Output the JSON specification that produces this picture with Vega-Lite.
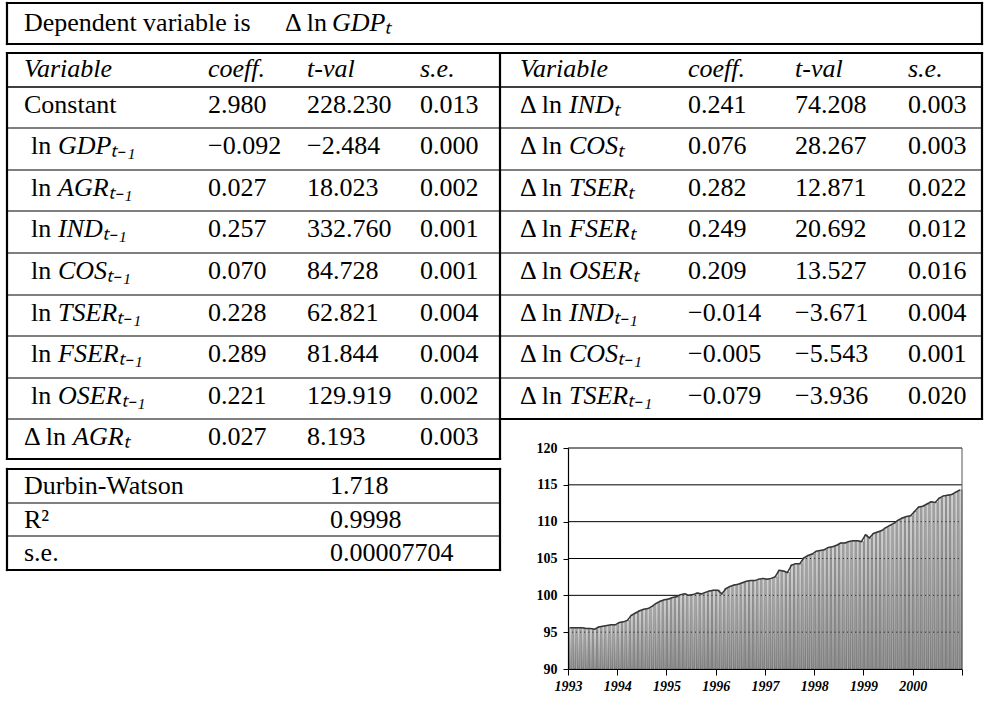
{
  "$schema": "https://vega.github.io/schema/vega-lite/v6.json",
  "width": 394,
  "height": 221,
  "autosize": {"type": "none"},
  "padding": {"left": 568, "top": 448, "right": 22, "bottom": 37},
  "background": "white",
  "config": {"view": {"stroke": null}, "font": "Liberation Serif"},
  "datasets": {
    "lines": [
      {"c": 0, "c2": 11, "r": 0, "r2": 0, "w": "thick"},
      {"c": 0, "c2": 11, "r": 1, "r2": 1, "w": "thick"},
      {"c": 0, "c2": 0, "r": 0, "r2": 1, "w": "thick"},
      {"c": 11, "c2": 11, "r": 0, "r2": 1, "w": "thick"},
      {"c": 0, "c2": 11, "r": 2, "r2": 2, "w": "thick"},
      {"c": 0, "c2": 11, "r": 3, "r2": 3, "w": "mid"},
      {"c": 0, "c2": 11, "r": 4, "r2": 4, "w": "thin"},
      {"c": 0, "c2": 11, "r": 5, "r2": 5, "w": "thin"},
      {"c": 0, "c2": 11, "r": 6, "r2": 6, "w": "thin"},
      {"c": 0, "c2": 11, "r": 7, "r2": 7, "w": "thin"},
      {"c": 0, "c2": 11, "r": 8, "r2": 8, "w": "thin"},
      {"c": 0, "c2": 11, "r": 9, "r2": 9, "w": "thin"},
      {"c": 0, "c2": 11, "r": 10, "r2": 10, "w": "thin"},
      {"c": 0, "c2": 6, "r": 11, "r2": 11, "w": "thin"},
      {"c": 6, "c2": 11, "r": 11, "r2": 11, "w": "thick"},
      {"c": 0, "c2": 6, "r": 12, "r2": 12, "w": "thick"},
      {"c": 0, "c2": 0, "r": 2, "r2": 12, "w": "thick"},
      {"c": 6, "c2": 6, "r": 2, "r2": 12, "w": "thick"},
      {"c": 11, "c2": 11, "r": 2, "r2": 11, "w": "thick"},
      {"c": 0, "c2": 6, "r": 13, "r2": 13, "w": "thick"},
      {"c": 0, "c2": 6, "r": 14, "r2": 14, "w": "thin"},
      {"c": 0, "c2": 6, "r": 15, "r2": 15, "w": "thin"},
      {"c": 0, "c2": 6, "r": 16, "r2": 16, "w": "thick"},
      {"c": 0, "c2": 0, "r": 13, "r2": 16, "w": "thick"},
      {"c": 6, "c2": 6, "r": 13, "r2": 16, "w": "thick"}
    ],
    "title": [
      {"c": 1, "r": 0, "t": "Dependent variable is", "part": "lead"},
      {"c": 1, "r": 0, "t": "Δ ln", "part": "op"},
      {"c": 1, "r": 0, "t": "GDPₜ", "part": "var"}
    ],
    "cells": [
      {"c": 1, "r": 2, "t": "Variable", "k": "hdr"},
      {"c": 2, "r": 2, "t": "coeff.", "k": "hdr"},
      {"c": 3, "r": 2, "t": "t-val", "k": "hdr"},
      {"c": 5, "r": 2, "t": "s.e.", "k": "hdr"},
      {"c": 7, "r": 2, "t": "Variable", "k": "hdr"},
      {"c": 8, "r": 2, "t": "coeff.", "k": "hdr"},
      {"c": 9, "r": 2, "t": "t-val", "k": "hdr"},
      {"c": 10, "r": 2, "t": "s.e.", "k": "hdr"},
      {"c": 2, "r": 3, "t": "2.980", "k": "num"},
      {"c": 3, "r": 3, "t": "228.230", "k": "num"},
      {"c": 5, "r": 3, "t": "0.013", "k": "num"},
      {"c": 2, "r": 4, "t": "−0.092", "k": "num"},
      {"c": 3, "r": 4, "t": "−2.484", "k": "num"},
      {"c": 5, "r": 4, "t": "0.000", "k": "num"},
      {"c": 2, "r": 5, "t": "0.027", "k": "num"},
      {"c": 3, "r": 5, "t": "18.023", "k": "num"},
      {"c": 5, "r": 5, "t": "0.002", "k": "num"},
      {"c": 2, "r": 6, "t": "0.257", "k": "num"},
      {"c": 3, "r": 6, "t": "332.760", "k": "num"},
      {"c": 5, "r": 6, "t": "0.001", "k": "num"},
      {"c": 2, "r": 7, "t": "0.070", "k": "num"},
      {"c": 3, "r": 7, "t": "84.728", "k": "num"},
      {"c": 5, "r": 7, "t": "0.001", "k": "num"},
      {"c": 2, "r": 8, "t": "0.228", "k": "num"},
      {"c": 3, "r": 8, "t": "62.821", "k": "num"},
      {"c": 5, "r": 8, "t": "0.004", "k": "num"},
      {"c": 2, "r": 9, "t": "0.289", "k": "num"},
      {"c": 3, "r": 9, "t": "81.844", "k": "num"},
      {"c": 5, "r": 9, "t": "0.004", "k": "num"},
      {"c": 2, "r": 10, "t": "0.221", "k": "num"},
      {"c": 3, "r": 10, "t": "129.919", "k": "num"},
      {"c": 5, "r": 10, "t": "0.002", "k": "num"},
      {"c": 2, "r": 11, "t": "0.027", "k": "num"},
      {"c": 3, "r": 11, "t": "8.193", "k": "num"},
      {"c": 5, "r": 11, "t": "0.003", "k": "num"},
      {"c": 8, "r": 3, "t": "0.241", "k": "num"},
      {"c": 9, "r": 3, "t": "74.208", "k": "num"},
      {"c": 10, "r": 3, "t": "0.003", "k": "num"},
      {"c": 8, "r": 4, "t": "0.076", "k": "num"},
      {"c": 9, "r": 4, "t": "28.267", "k": "num"},
      {"c": 10, "r": 4, "t": "0.003", "k": "num"},
      {"c": 8, "r": 5, "t": "0.282", "k": "num"},
      {"c": 9, "r": 5, "t": "12.871", "k": "num"},
      {"c": 10, "r": 5, "t": "0.022", "k": "num"},
      {"c": 8, "r": 6, "t": "0.249", "k": "num"},
      {"c": 9, "r": 6, "t": "20.692", "k": "num"},
      {"c": 10, "r": 6, "t": "0.012", "k": "num"},
      {"c": 8, "r": 7, "t": "0.209", "k": "num"},
      {"c": 9, "r": 7, "t": "13.527", "k": "num"},
      {"c": 10, "r": 7, "t": "0.016", "k": "num"},
      {"c": 8, "r": 8, "t": "−0.014", "k": "num"},
      {"c": 9, "r": 8, "t": "−3.671", "k": "num"},
      {"c": 10, "r": 8, "t": "0.004", "k": "num"},
      {"c": 8, "r": 9, "t": "−0.005", "k": "num"},
      {"c": 9, "r": 9, "t": "−5.543", "k": "num"},
      {"c": 10, "r": 9, "t": "0.001", "k": "num"},
      {"c": 8, "r": 10, "t": "−0.079", "k": "num"},
      {"c": 9, "r": 10, "t": "−3.936", "k": "num"},
      {"c": 10, "r": 10, "t": "0.020", "k": "num"},
      {"c": 1, "r": 13, "t": "Durbin-Watson", "k": "stat"},
      {"c": 4, "r": 13, "t": "1.718", "k": "stat"},
      {"c": 1, "r": 14, "t": "R²", "k": "stat"},
      {"c": 4, "r": 14, "t": "0.9998", "k": "stat"},
      {"c": 1, "r": 15, "t": "s.e.", "k": "stat"},
      {"c": 4, "r": 15, "t": "0.00007704", "k": "stat"}
    ],
    "vars": [
      {"c": 1, "r": 3, "p": "Constant", "n": ""},
      {"c": 1, "r": 4, "p": "ln", "n": "GDPₜ₋₁"},
      {"c": 1, "r": 5, "p": "ln", "n": "AGRₜ₋₁"},
      {"c": 1, "r": 6, "p": "ln", "n": "INDₜ₋₁"},
      {"c": 1, "r": 7, "p": "ln", "n": "COSₜ₋₁"},
      {"c": 1, "r": 8, "p": "ln", "n": "TSERₜ₋₁"},
      {"c": 1, "r": 9, "p": "ln", "n": "FSERₜ₋₁"},
      {"c": 1, "r": 10, "p": "ln", "n": "OSERₜ₋₁"},
      {"c": 1, "r": 11, "p": "Δ ln", "n": "AGRₜ"},
      {"c": 7, "r": 3, "p": "Δ ln", "n": "INDₜ"},
      {"c": 7, "r": 4, "p": "Δ ln", "n": "COSₜ"},
      {"c": 7, "r": 5, "p": "Δ ln", "n": "TSERₜ"},
      {"c": 7, "r": 6, "p": "Δ ln", "n": "FSERₜ"},
      {"c": 7, "r": 7, "p": "Δ ln", "n": "OSERₜ"},
      {"c": 7, "r": 8, "p": "Δ ln", "n": "INDₜ₋₁"},
      {"c": 7, "r": 9, "p": "Δ ln", "n": "COSₜ₋₁"},
      {"c": 7, "r": 10, "p": "Δ ln", "n": "TSERₜ₋₁"}
    ],
    "gdp": [
      {"m": "1993-01", "v": 95.6}, {"m": "1993-02", "v": 95.6}, {"m": "1993-03", "v": 95.6}, {"m": "1993-04", "v": 95.6},
      {"m": "1993-05", "v": 95.5}, {"m": "1993-06", "v": 95.5}, {"m": "1993-07", "v": 95.4}, {"m": "1993-08", "v": 95.7},
      {"m": "1993-09", "v": 95.8}, {"m": "1993-10", "v": 95.9}, {"m": "1993-11", "v": 96.0}, {"m": "1993-12", "v": 96.0},
      {"m": "1994-01", "v": 96.3}, {"m": "1994-02", "v": 96.4}, {"m": "1994-03", "v": 96.6}, {"m": "1994-04", "v": 97.3},
      {"m": "1994-05", "v": 97.6}, {"m": "1994-06", "v": 97.9}, {"m": "1994-07", "v": 98.1}, {"m": "1994-08", "v": 98.2},
      {"m": "1994-09", "v": 98.5}, {"m": "1994-10", "v": 98.9}, {"m": "1994-11", "v": 99.2}, {"m": "1994-12", "v": 99.4},
      {"m": "1995-01", "v": 99.5}, {"m": "1995-02", "v": 99.7}, {"m": "1995-03", "v": 99.8}, {"m": "1995-04", "v": 100.1},
      {"m": "1995-05", "v": 100.2}, {"m": "1995-06", "v": 100.0}, {"m": "1995-07", "v": 100.1}, {"m": "1995-08", "v": 100.3},
      {"m": "1995-09", "v": 100.2}, {"m": "1995-10", "v": 100.4}, {"m": "1995-11", "v": 100.6}, {"m": "1995-12", "v": 100.7},
      {"m": "1996-01", "v": 100.7}, {"m": "1996-02", "v": 100.2}, {"m": "1996-03", "v": 100.9}, {"m": "1996-04", "v": 101.2},
      {"m": "1996-05", "v": 101.4}, {"m": "1996-06", "v": 101.5}, {"m": "1996-07", "v": 101.7}, {"m": "1996-08", "v": 101.9},
      {"m": "1996-09", "v": 102.0}, {"m": "1996-10", "v": 102.0}, {"m": "1996-11", "v": 102.2}, {"m": "1996-12", "v": 102.3},
      {"m": "1997-01", "v": 102.2}, {"m": "1997-02", "v": 102.3}, {"m": "1997-03", "v": 102.5}, {"m": "1997-04", "v": 103.4},
      {"m": "1997-05", "v": 103.3}, {"m": "1997-06", "v": 103.1}, {"m": "1997-07", "v": 104.1}, {"m": "1997-08", "v": 104.3},
      {"m": "1997-09", "v": 104.3}, {"m": "1997-10", "v": 105.1}, {"m": "1997-11", "v": 105.4}, {"m": "1997-12", "v": 105.6},
      {"m": "1998-01", "v": 106.0}, {"m": "1998-02", "v": 106.1}, {"m": "1998-03", "v": 106.2}, {"m": "1998-04", "v": 106.5},
      {"m": "1998-05", "v": 106.6}, {"m": "1998-06", "v": 106.8}, {"m": "1998-07", "v": 107.1}, {"m": "1998-08", "v": 107.1},
      {"m": "1998-09", "v": 107.3}, {"m": "1998-10", "v": 107.4}, {"m": "1998-11", "v": 107.4}, {"m": "1998-12", "v": 107.3},
      {"m": "1999-01", "v": 108.2}, {"m": "1999-02", "v": 107.8}, {"m": "1999-03", "v": 108.4}, {"m": "1999-04", "v": 108.6},
      {"m": "1999-05", "v": 108.8}, {"m": "1999-06", "v": 109.2}, {"m": "1999-07", "v": 109.5}, {"m": "1999-08", "v": 109.8},
      {"m": "1999-09", "v": 110.2}, {"m": "1999-10", "v": 110.5}, {"m": "1999-11", "v": 110.7}, {"m": "1999-12", "v": 110.8},
      {"m": "2000-01", "v": 111.4}, {"m": "2000-02", "v": 112.0}, {"m": "2000-03", "v": 112.1}, {"m": "2000-04", "v": 112.4},
      {"m": "2000-05", "v": 112.7}, {"m": "2000-06", "v": 112.6}, {"m": "2000-07", "v": 113.2}, {"m": "2000-08", "v": 113.5},
      {"m": "2000-09", "v": 113.6}, {"m": "2000-10", "v": 113.7}, {"m": "2000-11", "v": 114.0}, {"m": "2000-12", "v": 114.3}
    ],
    "grid": [
      {"v": 95, "m": "1993-01-01", "m2": "2001-01-01"},
      {"v": 100, "m": "1993-01-01", "m2": "2001-01-01"},
      {"v": 105, "m": "1993-01-01", "m2": "2001-01-01"},
      {"v": 110, "m": "1993-01-01", "m2": "2001-01-01"},
      {"v": 115, "m": "1993-01-01", "m2": "2001-01-01"},
      {"v": 120, "m": "1993-01-01", "m2": "2001-01-01"}
    ]
  },
  "layer": [
    {
      "encoding": {
        "x": {"field": "c", "type": "quantitative", "axis": null,
          "scale": {"domain": [0, 1, 2, 3, 4, 5, 6, 7, 8, 9, 10, 11], "range": [-561, -544, -360, -261, -238, -148, -68, -48, 120, 227, 340, 414], "nice": false, "zero": false}},
        "y": {"field": "r", "type": "quantitative", "axis": null,
          "scale": {"domain": [0, 1, 2, 3, 4, 5, 6, 7, 8, 9, 10, 11, 12, 13, 14, 15, 16], "range": [-445, -404, -395, -361, -320, -278, -237, -195, -153, -112, -70, -29, 11, 21, 55, 88, 122], "nice": false, "zero": false}}
      },
      "layer": [
        {
          "data": {"name": "lines"},
          "mark": {"type": "rule", "color": "black", "strokeCap": "square"},
          "encoding": {
            "x2": {"field": "c2"},
            "y2": {"field": "r2"},
            "strokeWidth": {"field": "w", "type": "nominal", "legend": null,
              "scale": {"domain": ["thin", "mid", "thick"], "range": [1.2, 2.2, 3.2]}}
          }
        },
        {
          "data": {"name": "title"},
          "transform": [{"filter": "datum.part == 'lead'"}],
          "mark": {"type": "text", "align": "left", "baseline": "middle", "dy": 20, "fontSize": 26, "font": "Liberation Serif", "color": "black"},
          "encoding": {"text": {"field": "t"}}
        },
        {
          "data": {"name": "title"},
          "transform": [{"filter": "datum.part == 'op'"}],
          "mark": {"type": "text", "align": "left", "baseline": "middle", "dx": 261, "dy": 20, "fontSize": 26, "font": "Liberation Serif", "color": "black"},
          "encoding": {"text": {"field": "t"}}
        },
        {
          "data": {"name": "title"},
          "transform": [{"filter": "datum.part == 'var'"}],
          "mark": {"type": "text", "align": "left", "baseline": "middle", "dx": 308, "dy": 20, "fontSize": 26, "font": "Liberation Serif", "fontStyle": "italic", "color": "black"},
          "encoding": {"text": {"field": "t"}}
        },
        {
          "data": {"name": "cells"},
          "transform": [{"filter": "datum.k == 'hdr'"}],
          "mark": {"type": "text", "align": "left", "baseline": "middle", "dy": 16, "fontSize": 26, "font": "Liberation Serif", "fontStyle": "italic", "color": "black"},
          "encoding": {"text": {"field": "t"}}
        },
        {
          "data": {"name": "cells"},
          "transform": [{"filter": "datum.k == 'num'"}],
          "mark": {"type": "text", "align": "left", "baseline": "middle", "dy": 18, "fontSize": 26, "font": "Liberation Serif", "color": "black"},
          "encoding": {"text": {"field": "t"}}
        },
        {
          "data": {"name": "cells"},
          "transform": [{"filter": "datum.k == 'stat'"}],
          "mark": {"type": "text", "align": "left", "baseline": "middle", "dy": 17, "fontSize": 26, "font": "Liberation Serif", "color": "black"},
          "encoding": {"text": {"field": "t"}}
        },
        {
          "data": {"name": "vars"},
          "transform": [{"filter": "datum.p != 'ln'"}],
          "mark": {"type": "text", "align": "left", "baseline": "middle", "dy": 18, "fontSize": 26, "font": "Liberation Serif", "color": "black"},
          "encoding": {"text": {"field": "p"}}
        },
        {
          "data": {"name": "vars"},
          "transform": [{"filter": "datum.p == 'ln'"}],
          "mark": {"type": "text", "align": "left", "baseline": "middle", "dx": 7, "dy": 18, "fontSize": 26, "font": "Liberation Serif", "color": "black"},
          "encoding": {"text": {"field": "p"}}
        },
        {
          "data": {"name": "vars"},
          "transform": [{"filter": "datum.p == 'ln'"}],
          "mark": {"type": "text", "align": "left", "baseline": "middle", "dx": 34, "dy": 18, "fontSize": 26, "font": "Liberation Serif", "fontStyle": "italic", "color": "black"},
          "encoding": {"text": {"field": "n"}}
        },
        {
          "data": {"name": "vars"},
          "transform": [{"filter": "datum.p == 'Δ ln'"}],
          "mark": {"type": "text", "align": "left", "baseline": "middle", "dx": 49, "dy": 18, "fontSize": 26, "font": "Liberation Serif", "fontStyle": "italic", "color": "black"},
          "encoding": {"text": {"field": "n"}}
        }
      ]
    },
    {
      "encoding": {
        "x": {"field": "m", "timeUnit": "utcyearmonth", "type": "temporal",
          "scale": {"type": "utc", "domain": [{"year": 1993, "month": 1, "date": 1, "utc": true}, {"year": 2001, "month": 1, "date": 1, "utc": true}]},
          "axis": {"orient": "bottom", "title": null, "grid": false, "zindex": 1,
            "values": [{"year": 1993, "month": 1, "date": 1, "utc": true}, {"year": 1994, "month": 1, "date": 1, "utc": true}, {"year": 1995, "month": 1, "date": 1, "utc": true}, {"year": 1996, "month": 1, "date": 1, "utc": true}, {"year": 1997, "month": 1, "date": 1, "utc": true}, {"year": 1998, "month": 1, "date": 1, "utc": true}, {"year": 1999, "month": 1, "date": 1, "utc": true}, {"year": 2000, "month": 1, "date": 1, "utc": true}, {"year": 2001, "month": 1, "date": 1, "utc": true}],
            "labelExpr": "utcyear(datum.value) > 2000 ? '' : utcFormat(datum.value, '%Y')",
            "domainColor": "black", "domainWidth": 1.2, "tickColor": "black", "tickSize": 6, "tickWidth": 1,
            "labelFont": "Liberation Serif", "labelFontWeight": "bold", "labelFontStyle": "italic", "labelFontSize": 14,
            "labelColor": "black", "labelPadding": 4, "labelFlush": false, "labelOverlap": false}},
        "y": {"field": "v", "type": "quantitative",
          "scale": {"domain": [90, 120], "nice": false, "zero": false},
          "axis": {"orient": "left", "title": null, "grid": false, "zindex": 1, "values": [90, 95, 100, 105, 110, 115, 120],
            "domainColor": "black", "domainWidth": 1.2, "tickColor": "black", "tickSize": 5, "tickWidth": 1,
            "labelFont": "Liberation Serif", "labelFontWeight": "bold", "labelFontSize": 14, "labelColor": "black", "labelPadding": 6,
            "labelOverlap": false, "labelFlush": false}}
      },
      "layer": [
        {
          "data": {"name": "grid"},
          "mark": {"type": "rule", "color": "black", "strokeWidth": 1},
          "encoding": {
            "x2": {"field": "m2", "timeUnit": "utcyearmonth"}
          }
        },
        {
          "data": {"name": "gdp"},
          "mark": {"type": "bar", "stroke": "#4d4d4d", "strokeWidth": 0.6,
            "fill": {"gradient": "linear", "x1": 0, "y1": 0, "x2": 0, "y2": 1, "stops": [{"offset": 0, "color": "#d2d2d2"}, {"offset": 1, "color": "#8f8f8f"}]}},
          "encoding": {
            "y2": {"datum": 90}
          }
        },
        {
          "data": {"name": "gdp"},
          "mark": {"type": "line", "color": "#363636", "strokeWidth": 1.5},
          "encoding": {
            "x": {"field": "m", "timeUnit": "utcyearmonth", "type": "temporal", "bandPosition": 0.5,
              "scale": {"type": "utc", "domain": [{"year": 1993, "month": 1, "date": 1, "utc": true}, {"year": 2001, "month": 1, "date": 1, "utc": true}]},
              "axis": {"orient": "bottom", "title": null, "grid": false, "zindex": 1,
                "values": [{"year": 1993, "month": 1, "date": 1, "utc": true}, {"year": 1994, "month": 1, "date": 1, "utc": true}, {"year": 1995, "month": 1, "date": 1, "utc": true}, {"year": 1996, "month": 1, "date": 1, "utc": true}, {"year": 1997, "month": 1, "date": 1, "utc": true}, {"year": 1998, "month": 1, "date": 1, "utc": true}, {"year": 1999, "month": 1, "date": 1, "utc": true}, {"year": 2000, "month": 1, "date": 1, "utc": true}, {"year": 2001, "month": 1, "date": 1, "utc": true}],
                "labelExpr": "utcyear(datum.value) > 2000 ? '' : utcFormat(datum.value, '%Y')",
                "domainColor": "black", "domainWidth": 1.2, "tickColor": "black", "tickSize": 6, "tickWidth": 1,
                "labelFont": "Liberation Serif", "labelFontWeight": "bold", "labelFontStyle": "italic", "labelFontSize": 14,
                "labelColor": "black", "labelPadding": 4, "labelFlush": false, "labelOverlap": false}}
          }
        },
        {
          "data": {"values": [{"v": 90, "top": 120, "m": "2001-01-01"}]},
          "mark": {"type": "rule", "color": "#555555", "strokeWidth": 1},
          "encoding": {
            "y2": {"field": "top"}
          }
        }
      ]
    }
  ],
  "resolve": {"scale": {"x": "independent", "y": "independent", "strokeWidth": "independent"}, "axis": {"x": "independent", "y": "independent"}}
}
